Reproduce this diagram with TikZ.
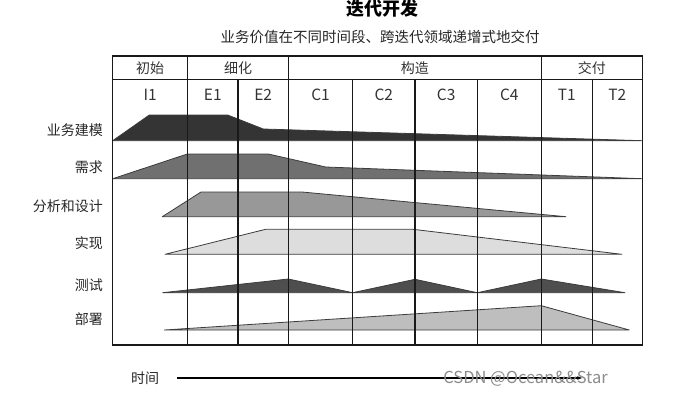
\documentclass[tikz,border=0pt]{standalone}
\usepackage{fontspec}
\setmainfont{Noto Sans CJK SC}
\usepackage{tikz}
\usetikzlibrary{
    arrows.meta,
    positioning
}
\usepackage{xcolor}
\definecolor{modelgray}{RGB}{52,52,52}
\definecolor{reqgray}{RGB}{112,112,112}
\definecolor{designgray}{RGB}{152,152,152}
\definecolor{implgray}{RGB}{221,221,221}
\definecolor{testgray}{RGB}{78,78,78}
\definecolor{deploygray}{RGB}{190,190,190}
\definecolor{linegray}{RGB}{60,60,60}

\begin{document}
\begin{tikzpicture}[
    x=1pt, y=-1pt,
    grid/.style={draw=black!90, line width=1.3pt},
    flow/.style={draw=linegray, line width=0.8pt, line join=round},
    hdr/.style={font=\fontsize{14}{14}\selectfont, text=black!80, inner sep=0pt},
    iter/.style={font=\fontsize{15.5}{15.5}\selectfont, text=black!80, inner sep=0pt},
    disc/.style={font=\fontsize{14}{14}\selectfont, text=black!85, anchor=east, inner sep=0pt},
    arrow/.style={-{Stealth[length=5pt]}, line width=1.2pt}
]
\useasboundingbox (0,0) rectangle (680,399);

% Title
\node[font=\fontsize{18}{18}\selectfont\bfseries] (title) at (382,9) {迭代开发};
\node[font=\fontsize{14.5}{14.5}\selectfont, text=black!85] (subtitle) at (380,36.7) {业务价值在不同时间段、跨迭代领域递增式地交付};

% Disciplines (drawn under the grid)
\draw[flow, fill=modelgray] (112.7,140.7) -- (149.3,115) -- (227.7,115) -- (263.3,129) -- (642.3,140.7) -- cycle;
\draw[flow, fill=reqgray] (112.7,178.7) -- (187.3,154) -- (268.3,154) -- (325.7,167) -- (642.3,178.7) -- cycle;
\draw[flow, fill=designgray] (162.3,216.7) -- (201,192) -- (302,192) -- (566,216.7) -- cycle;
\draw[flow, fill=implgray] (165,254.3) -- (265.7,229.3) -- (413,229.3) -- (622,254.3) -- cycle;
\draw[flow, fill=testgray] (162.7,292.7) -- (288.3,279) -- (352.7,292.7) -- (415,279.3) -- (477.3,292.7) -- (541.3,279) -- (625,292.7) -- cycle;
\draw[flow, fill=deploygray] (164.3,330) -- (541.3,305.7) -- (629.3,330) -- cycle;

% Grid
\draw[grid] (112.7,56) rectangle (642.3,345);
\draw[grid] (112.7,79.3) -- (642.3,79.3);
\foreach \x in {187.7, 288.3, 541.3} {
    \draw[grid] (\x,56) -- (\x,345);
}
\foreach \x in {238, 352.7, 415, 477.3, 592.3} {
    \draw[grid] (\x,79.3) -- (\x,345);
}

% Phases
\foreach \x/\lbl/\nm in {150.2/初始/init, 238/细化/elab, 414.8/构造/cons, 591.8/交付/trans} {
    \node[hdr] (ph-\nm) at (\x,68) {\lbl};
}

% Iterations
\foreach \x/\lbl in {150.2/I1, 212.8/E1, 263.2/E2, 320.5/C1, 383.8/C2, 446.2/C3, 509.3/C4, 566.8/T1, 617.3/T2} {
    \node[iter] (it-\lbl) at (\x,95) {\lbl};
}

% Discipline labels
\node[disc] (model) at (103,130) {业务建模};
\node[disc] (req) at (103,167.7) {需求};
\node[disc] (design) at (103,206) {分析和设计};
\node[disc] (impl) at (103,243.3) {实现};
\node[disc] (test) at (103,285) {测试};
\node[disc] (deploy) at (103,319) {部署};

% Time axis
\node[hdr, text=black!85] (time) at (145,378) {时间};
\coordinate (tstart) at (177,378);
\coordinate (tend) at (582,378);
\draw[arrow] (tstart) -- (tend);

% Watermark
\node[font=\fontsize{16.5}{16.5}\selectfont, text=black!45] (mark) at (525.5,378.5) {CSDN @Ocean\&\&Star};

\end{tikzpicture}
\end{document}
